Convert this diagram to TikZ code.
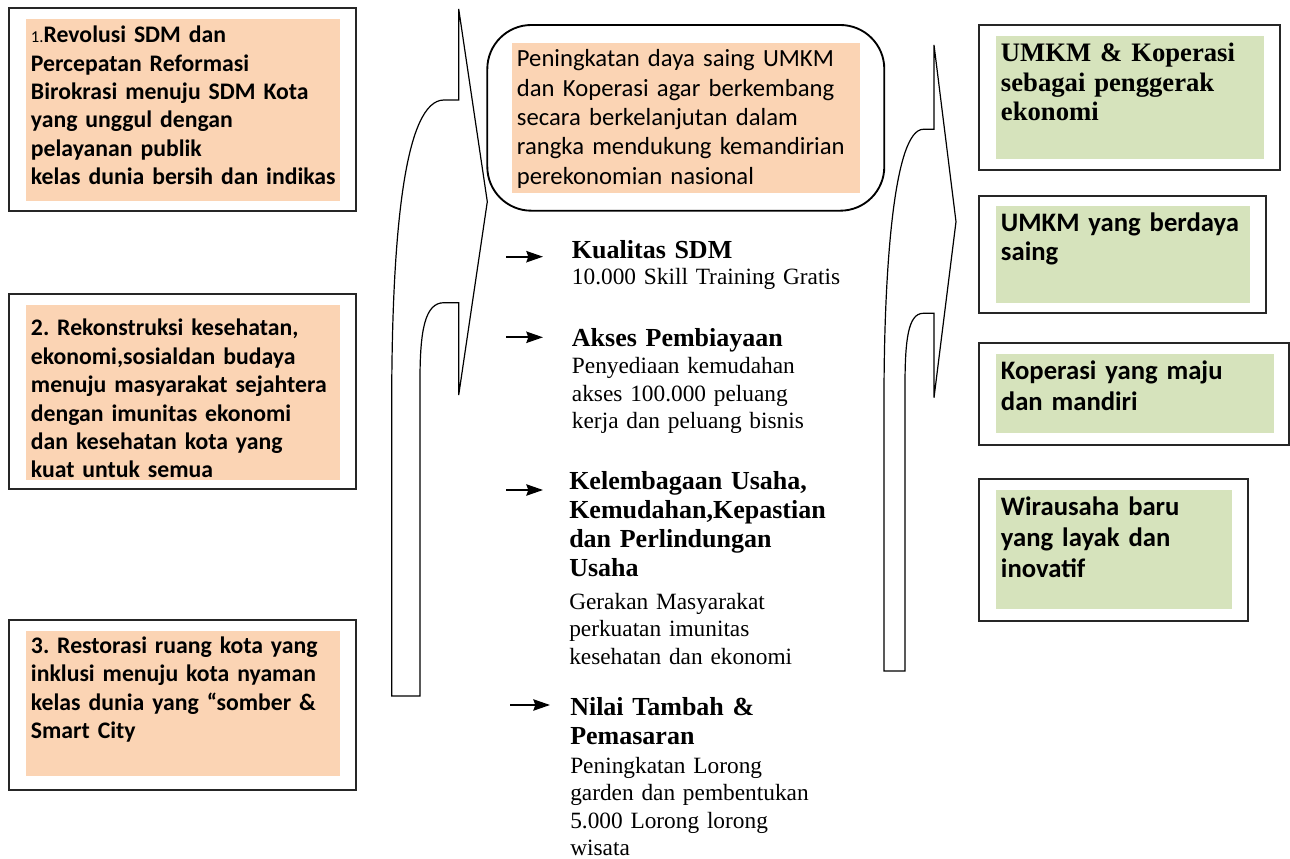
\documentclass[tikz,border=0pt]{standalone}
\usepackage{fontspec}
\setmainfont{Liberation Serif}
\newfontfamily\calibri{Carlito}
\usetikzlibrary{arrows.meta}
\frenchspacing
\definecolor{peach}{HTML}{FBD4B4}
\definecolor{sage}{HTML}{D6E3BC}
\tikzset{
  frame/.style={draw=black!85,line width=1.4pt},
  bendline/.style={draw=black,line width=0.9pt,line join=miter},
  goaltext/.style={anchor=base west,inner sep=0pt,text width=300pt,align=left,font=\calibri\bfseries\fontsize{17.8}{21.3}\selectfont},
  aimtext/.style={anchor=base west,inner sep=0pt,text width=300pt,align=left,font=\calibri\fontsize{18.5}{22}\selectfont},
  headtext/.style={anchor=base west,inner sep=0pt,text width=250pt,align=left,font=\bfseries\fontsize{19.5}{21.8}\selectfont},
  bodytext/.style={anchor=base west,inner sep=0pt,text width=250pt,align=left,font=\fontsize{17.5}{20.6}\selectfont},
  outtext/.style={anchor=base west,inner sep=0pt,text width=220pt,align=left,font=\calibri\bfseries\fontsize{20}{23.6}\selectfont},
  pointer/.style={-{Stealth[length=12.5pt,width=8.5pt,inset=1.5pt]},line width=1.4pt}
}
\begin{document}
\begin{tikzpicture}[x=0.75pt,y=-0.75pt]
\useasboundingbox (0,0) rectangle (1290,859);
\pgfmathsetmacro{\gl}{9}
\pgfmathsetmacro{\gr}{356}
\pgfmathsetmacro{\ol}{979.3}
% left column
\fill[peach] (26,19) rectangle (340,201);
\draw[frame] (\gl,8.3) rectangle (\gr,210.7);
\node[goaltext] (g1) at (30.7,42.7) {{\mdseries\fontsize{12.5}{12.5}\selectfont 1.}Revolusi SDM dan\\Percepatan Reformasi\\Birokrasi menuju SDM Kota\\yang unggul dengan\\pelayanan publik\\kelas dunia bersih dan indikas};
\fill[peach] (26,305) rectangle (340,480);
\draw[frame] (\gl,294) rectangle (\gr,489.3);
\node[goaltext] (g2) at (30.7,336) {2. Rekonstruksi kesehatan,\\ekonomi,sosialdan budaya\\menuju masyarakat sejahtera\\dengan imunitas ekonomi\\dan kesehatan kota yang\\kuat untuk semua};
\fill[peach] (26,631) rectangle (340,776);
\draw[frame] (\gl,620) rectangle (\gr,790);
\node[goaltext] (g3) at (30.7,653.3) {3. Restorasi ruang kota yang\\inklusi menuju kota nyaman\\kelas dunia yang “somber \&\\Smart City};
% bent arrows
\draw[bendline] (458.7,9)--(487.3,201.7)--(458.7,395)--(458.7,302.7)--(444,302.7) .. controls (425,302.7) and (420,330) .. (420,380)--(420,696)--(391.7,696)--(391.7,400) .. controls (392,230) and (405,100) .. (444,100)--(458.7,100)--cycle;
\draw[bendline] (934,45)--(956,221.7)--(934,397.7)--(934,313.3)--(923.3,313.3) .. controls (908,313.3) and (905,340) .. (905,387)--(905,671)--(884,671)--(884,400) .. controls (884,260) and (895,129.3) .. (923.3,129.3)--(934,129.3)--cycle;
% middle
\draw[line width=1.4pt,rounded corners=33] (487.3,25) rectangle (884.3,210.7);
\fill[peach] (511.7,43.3) rectangle (860,192.7);
\node[aimtext] (aim) at (516.7,66.7) {Peningkatan daya saing UMKM\\dan Koperasi agar berkembang\\secara berkelanjutan dalam\\rangka mendukung kemandirian\\perekonomian nasional};
\node[headtext] (k1) at (571.7,258.3) {Kualitas SDM};
\node[bodytext] (d1) at (571.7,285) {10.000 Skill Training Gratis};
\node[headtext] (k2) at (571.7,346.7) {Akses Pembiayaan};
\node[bodytext] (d2) at (571.7,374) {Penyediaan kemudahan\\akses 100.000 peluang\\kerja dan peluang bisnis};
\node[headtext] (k3) at (569,489.3) {Kelembagaan Usaha,\\Kemudahan,Kepastian\\dan Perlindungan\\Usaha};
\node[bodytext] (d3) at (569,609.3) {Gerakan Masyarakat\\perkuatan imunitas\\kesehatan dan ekonomi};
\node[headtext] (k4) at (570,715) {Nilai Tambah \&\\Pemasaran};
\node[bodytext] (d4) at (570,773.3) {Peningkatan Lorong\\garden dan pembentukan\\5.000 Lorong lorong\\wisata};
\coordinate (p1) at (506,256.7);
\coordinate (p2) at (506,337.3);
\coordinate (p3) at (506,490);
\coordinate (p4) at (510,705);
\draw[pointer] (p1)--++(37,0);
\draw[pointer] (p2)--++(37,0);
\draw[pointer] (p3)--++(37,0);
\draw[pointer] (p4)--++(40,0);
% right column
\fill[sage] (996,36) rectangle (1264,159.3);
\draw[frame] (\ol,25) rectangle (1280,170);
\node[headtext,font=\bfseries\fontsize{20}{22}\selectfont] (o1) at (1000.7,61.7) {UMKM \& Koperasi\\sebagai penggerak\\ekonomi};
\fill[sage] (996,206) rectangle (1250,302.7);
\draw[frame] (\ol,195.7) rectangle (1266,312.7);
\node[outtext,font=\calibri\bfseries\fontsize{20}{21.3}\selectfont] (o2) at (1000.7,231.7) {UMKM yang berdaya\\saing};
\fill[sage] (996,354) rectangle (1274,433.3);
\draw[frame] (\ol,343.3) rectangle (1289,445);
\node[outtext] (o3) at (1000.7,379.3) {Koperasi yang maju\\dan mandiri};
\fill[sage] (996,490) rectangle (1232,609.3);
\draw[frame] (\ol,479.3) rectangle (1248.3,620.7);
\node[outtext] (o4) at (1000.7,515) {Wirausaha baru\\yang layak dan\\inovatif};
\end{tikzpicture}
\end{document}
